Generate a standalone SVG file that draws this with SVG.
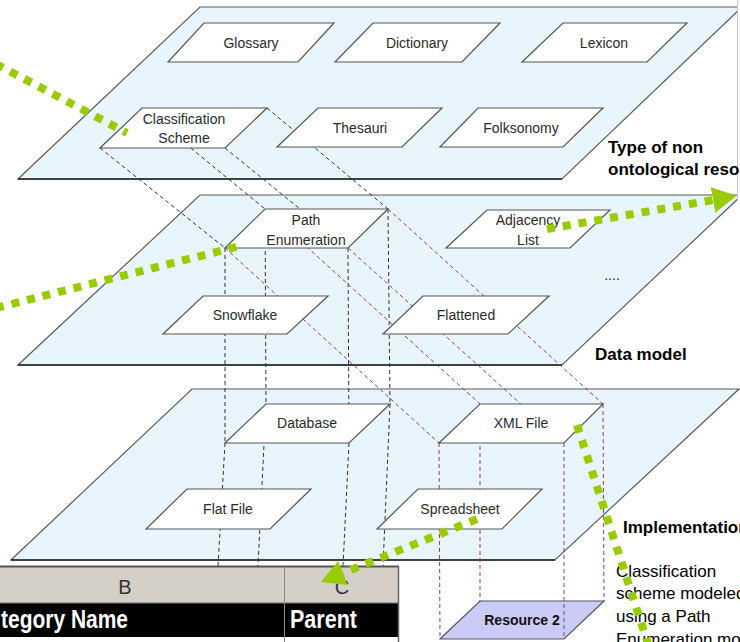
<svg xmlns="http://www.w3.org/2000/svg" width="740" height="642" viewBox="0 0 740 642">
  <defs>
    <style>
      .plane{fill:#e9f5fc;stroke:#5c5c5c;stroke-width:1.2}
      .edge{stroke:#1e1e1e;stroke-width:1.3}
      .node{fill:#fff;stroke:#555;stroke-width:1.2}
      .res{fill:#cbcbf8;stroke:#555;stroke-width:1.2}
      .lbl{font-family:"Liberation Sans",Arial,sans-serif;font-size:14px;fill:#2b2b2b;text-anchor:middle}
      .title{font-family:"Liberation Sans",Arial,sans-serif;font-size:17px;font-weight:bold;fill:#000}
      .note{font-family:"Liberation Sans",Arial,sans-serif;font-size:17px;fill:#000}
      .dk{stroke:#333;stroke-width:1;stroke-dasharray:4 3;fill:none}
      .pu{stroke:#8b3a8b;stroke-width:1;stroke-dasharray:4 3;fill:none}
      .gr{stroke:#99cc00;stroke-width:8;stroke-dasharray:8 8;fill:none}
      .cell{font-family:"Liberation Sans",Arial,sans-serif;font-size:20px;fill:#333;text-anchor:middle}
      .head{font-family:"Liberation Sans",Arial,sans-serif;font-size:25px;font-weight:bold;fill:#fff}
    </style>
    <marker id="head" markerUnits="userSpaceOnUse" viewBox="0 0 24 26" markerWidth="24" markerHeight="26" refX="0" refY="13" orient="auto">
      <path d="M0,0 L24,13 L0,26 Z" fill="#99cc00"/>
    </marker>
  </defs>

  <!-- layer planes -->
  <g id="planes">
    <polygon class="plane" points="200,7 742,7 562,179 18,179"/>
    <line class="edge" x1="18" y1="179" x2="562" y2="179"/>
    <polygon class="plane" points="200,195 742,195 562,365 18,365"/>
    <line class="edge" x1="18" y1="365" x2="562" y2="365"/>
    <polygon class="plane" points="192,389 739,389 555,560 11,560"/>
    <line class="edge" x1="11" y1="560" x2="555" y2="560"/>
  </g>

  <!-- frame edge on the right -->
  <rect x="737.5" y="0" width="3" height="200" fill="#fff"/>
  <line x1="737.5" y1="0" x2="737.5" y2="200" stroke="#c8c8c8" stroke-width="1"/>

  <!-- spreadsheet excerpt -->
  <g id="table">
    <rect x="0" y="566" width="399" height="76" fill="#fff"/>
    <rect x="0" y="567" width="399" height="36" fill="#d4d0c8"/>
    <rect x="0" y="603" width="399" height="34" fill="#000"/>
    <line x1="0" y1="566.5" x2="399" y2="566.5" stroke="#555" stroke-width="2"/>
    <line x1="0" y1="603" x2="399" y2="603" stroke="#777" stroke-width="1"/>
    <line x1="284.5" y1="567" x2="284.5" y2="642" stroke="#8a8a8a" stroke-width="1"/>
    <line x1="398.5" y1="566" x2="398.5" y2="642" stroke="#666" stroke-width="1.5"/>
    <text class="cell" x="125" y="594">B</text>
    <text class="cell" x="342" y="594">C</text>
    <text class="head" x="1" y="628" textLength="127" lengthAdjust="spacingAndGlyphs">tegory Name</text>
    <text class="head" x="290" y="628" textLength="67" lengthAdjust="spacingAndGlyphs">Parent</text>
  </g>

  <g id="resource2">
    <polygon class="res" points="480,601 604,601 564,639 440,639"/>
    <text x="522" y="625" font-family="Liberation Sans, Arial, sans-serif" font-size="14" font-weight="bold" fill="#111" text-anchor="middle">Resource 2</text>
  </g>

  <!-- projection lines between layers -->
  <g id="connectors">
    <!-- Classification Scheme to Path Enumeration -->
    <line class="dk" x1="142" y1="108" x2="265" y2="209"/>
    <line class="dk" x1="267" y1="108" x2="388" y2="209"/>
    <line class="dk" x1="100" y1="148" x2="225" y2="248"/>
    <line class="dk" x1="225" y1="148" x2="348" y2="248"/>
    <!-- Path Enumeration to Database -->
    <line class="dk" x1="265" y1="209" x2="266" y2="404"/>
    <line class="dk" x1="388" y1="209" x2="390" y2="404"/>
    <line class="dk" x1="225" y1="248" x2="225" y2="443"/>
    <line class="dk" x1="348" y1="248" x2="349" y2="443"/>
    <!-- Database to spreadsheet -->
    <line class="dk" x1="225" y1="443" x2="218" y2="566"/>
    <line class="dk" x1="266" y1="404" x2="258" y2="566"/>
    <line class="dk" x1="349" y1="443" x2="343" y2="566"/>
    <line class="dk" x1="390" y1="404" x2="383" y2="566"/>
    <!-- Path Enumeration to XML File -->
    <line class="pu" x1="265" y1="209" x2="480" y2="404"/>
    <line class="pu" x1="388" y1="209" x2="603" y2="404"/>
    <line class="pu" x1="225" y1="248" x2="439" y2="443"/>
    <line class="pu" x1="348" y1="248" x2="564" y2="443"/>
    <!-- XML File to Resource 2 -->
    <line class="pu" x1="480" y1="404" x2="480" y2="601"/>
    <line class="pu" x1="603" y1="404" x2="604" y2="601"/>
    <line class="pu" x1="439" y1="443" x2="440" y2="639"/>
    <line class="pu" x1="564" y1="443" x2="564" y2="639"/>
  </g>

  <!-- resource types -->
  <g id="glossary"><polygon class="node" points="204,23 334,23 298,62 168,62"/><text class="lbl" x="251" y="48">Glossary</text></g>
  <g id="dictionary"><polygon class="node" points="373,23 500,23 462,62 335,62"/><text class="lbl" x="417" y="48">Dictionary</text></g>
  <g id="lexicon"><polygon class="node" points="563,23 687,23 647,62 522,62"/><text class="lbl" x="604" y="48">Lexicon</text></g>
  <g id="classification"><polygon class="node" points="142,108 267,108 225,148 100,148"/><text class="lbl" x="184" y="124">Classification</text><text class="lbl" x="184" y="143">Scheme</text></g>
  <g id="thesauri"><polygon class="node" points="318,108 442,108 402,147 277,147"/><text class="lbl" x="360" y="133">Thesauri</text></g>
  <g id="folksonomy"><polygon class="node" points="478,108 603,108 563,147 440,147"/><text class="lbl" x="521" y="133">Folksonomy</text></g>

  <!-- data models -->
  <g id="path-enumeration"><polygon class="node" points="265,209 388,209 348,248 225,248"/><text class="lbl" x="306" y="225">Path</text><text class="lbl" x="306" y="245">Enumeration</text></g>
  <g id="adjacency-list"><polygon class="node" points="487,210 610,210 570,248 446,248"/><text class="lbl" x="528" y="225">Adjacency</text><text class="lbl" x="528" y="245">List</text></g>
  <g id="snowflake"><polygon class="node" points="203,296 328,296 287,334 163,334"/><text class="lbl" x="245" y="320">Snowflake</text></g>
  <g id="flattened"><polygon class="node" points="423,296 549,296 508,334 383,334"/><text class="lbl" x="466" y="320">Flattened</text></g>
  <text class="lbl" x="612" y="280">....</text>

  <!-- implementations -->
  <g id="database"><polygon class="node" points="266,404 390,404 349,443 225,443"/><text class="lbl" x="307" y="428">Database</text></g>
  <g id="xml-file"><polygon class="node" points="480,404 603,404 564,443 439,443"/><text class="lbl" x="521" y="428">XML File</text></g>
  <g id="flat-file"><polygon class="node" points="187,489 311,489 270,529 146,529"/><text class="lbl" x="228" y="514">Flat File</text></g>
  <g id="spreadsheet"><polygon class="node" points="418,489 542,489 502,529 377,529"/><text class="lbl" x="460" y="514">Spreadsheet</text></g>

  <!-- layer titles -->
  <text class="title" x="608" y="153">Type of non</text>
  <text class="title" x="608" y="175">ontological reso</text>
  <text class="title" x="595" y="360">Data model</text>
  <text class="title" x="623" y="533">Implementation</text>

  <text class="note" x="616" y="577">Classification</text>
  <text class="note" x="616" y="599">scheme modeled</text>
  <text class="note" x="616" y="622">using a Path</text>
  <text class="note" x="616" y="645">Enumeration mo</text>

  <!-- highlighted path -->
  <g id="pointers">
    <line class="gr" x1="-4" y1="64" x2="127" y2="133"/>
    <line class="gr" x1="-4" y1="308" x2="240" y2="246"/>
    <line class="gr" x1="547" y1="229" x2="713" y2="200" marker-end="url(#head)"/>
    <line class="gr" x1="577" y1="425" x2="650" y2="650"/>
    <line class="gr" x1="477" y1="519" x2="343" y2="573" marker-end="url(#head)"/>
  </g>
</svg>
